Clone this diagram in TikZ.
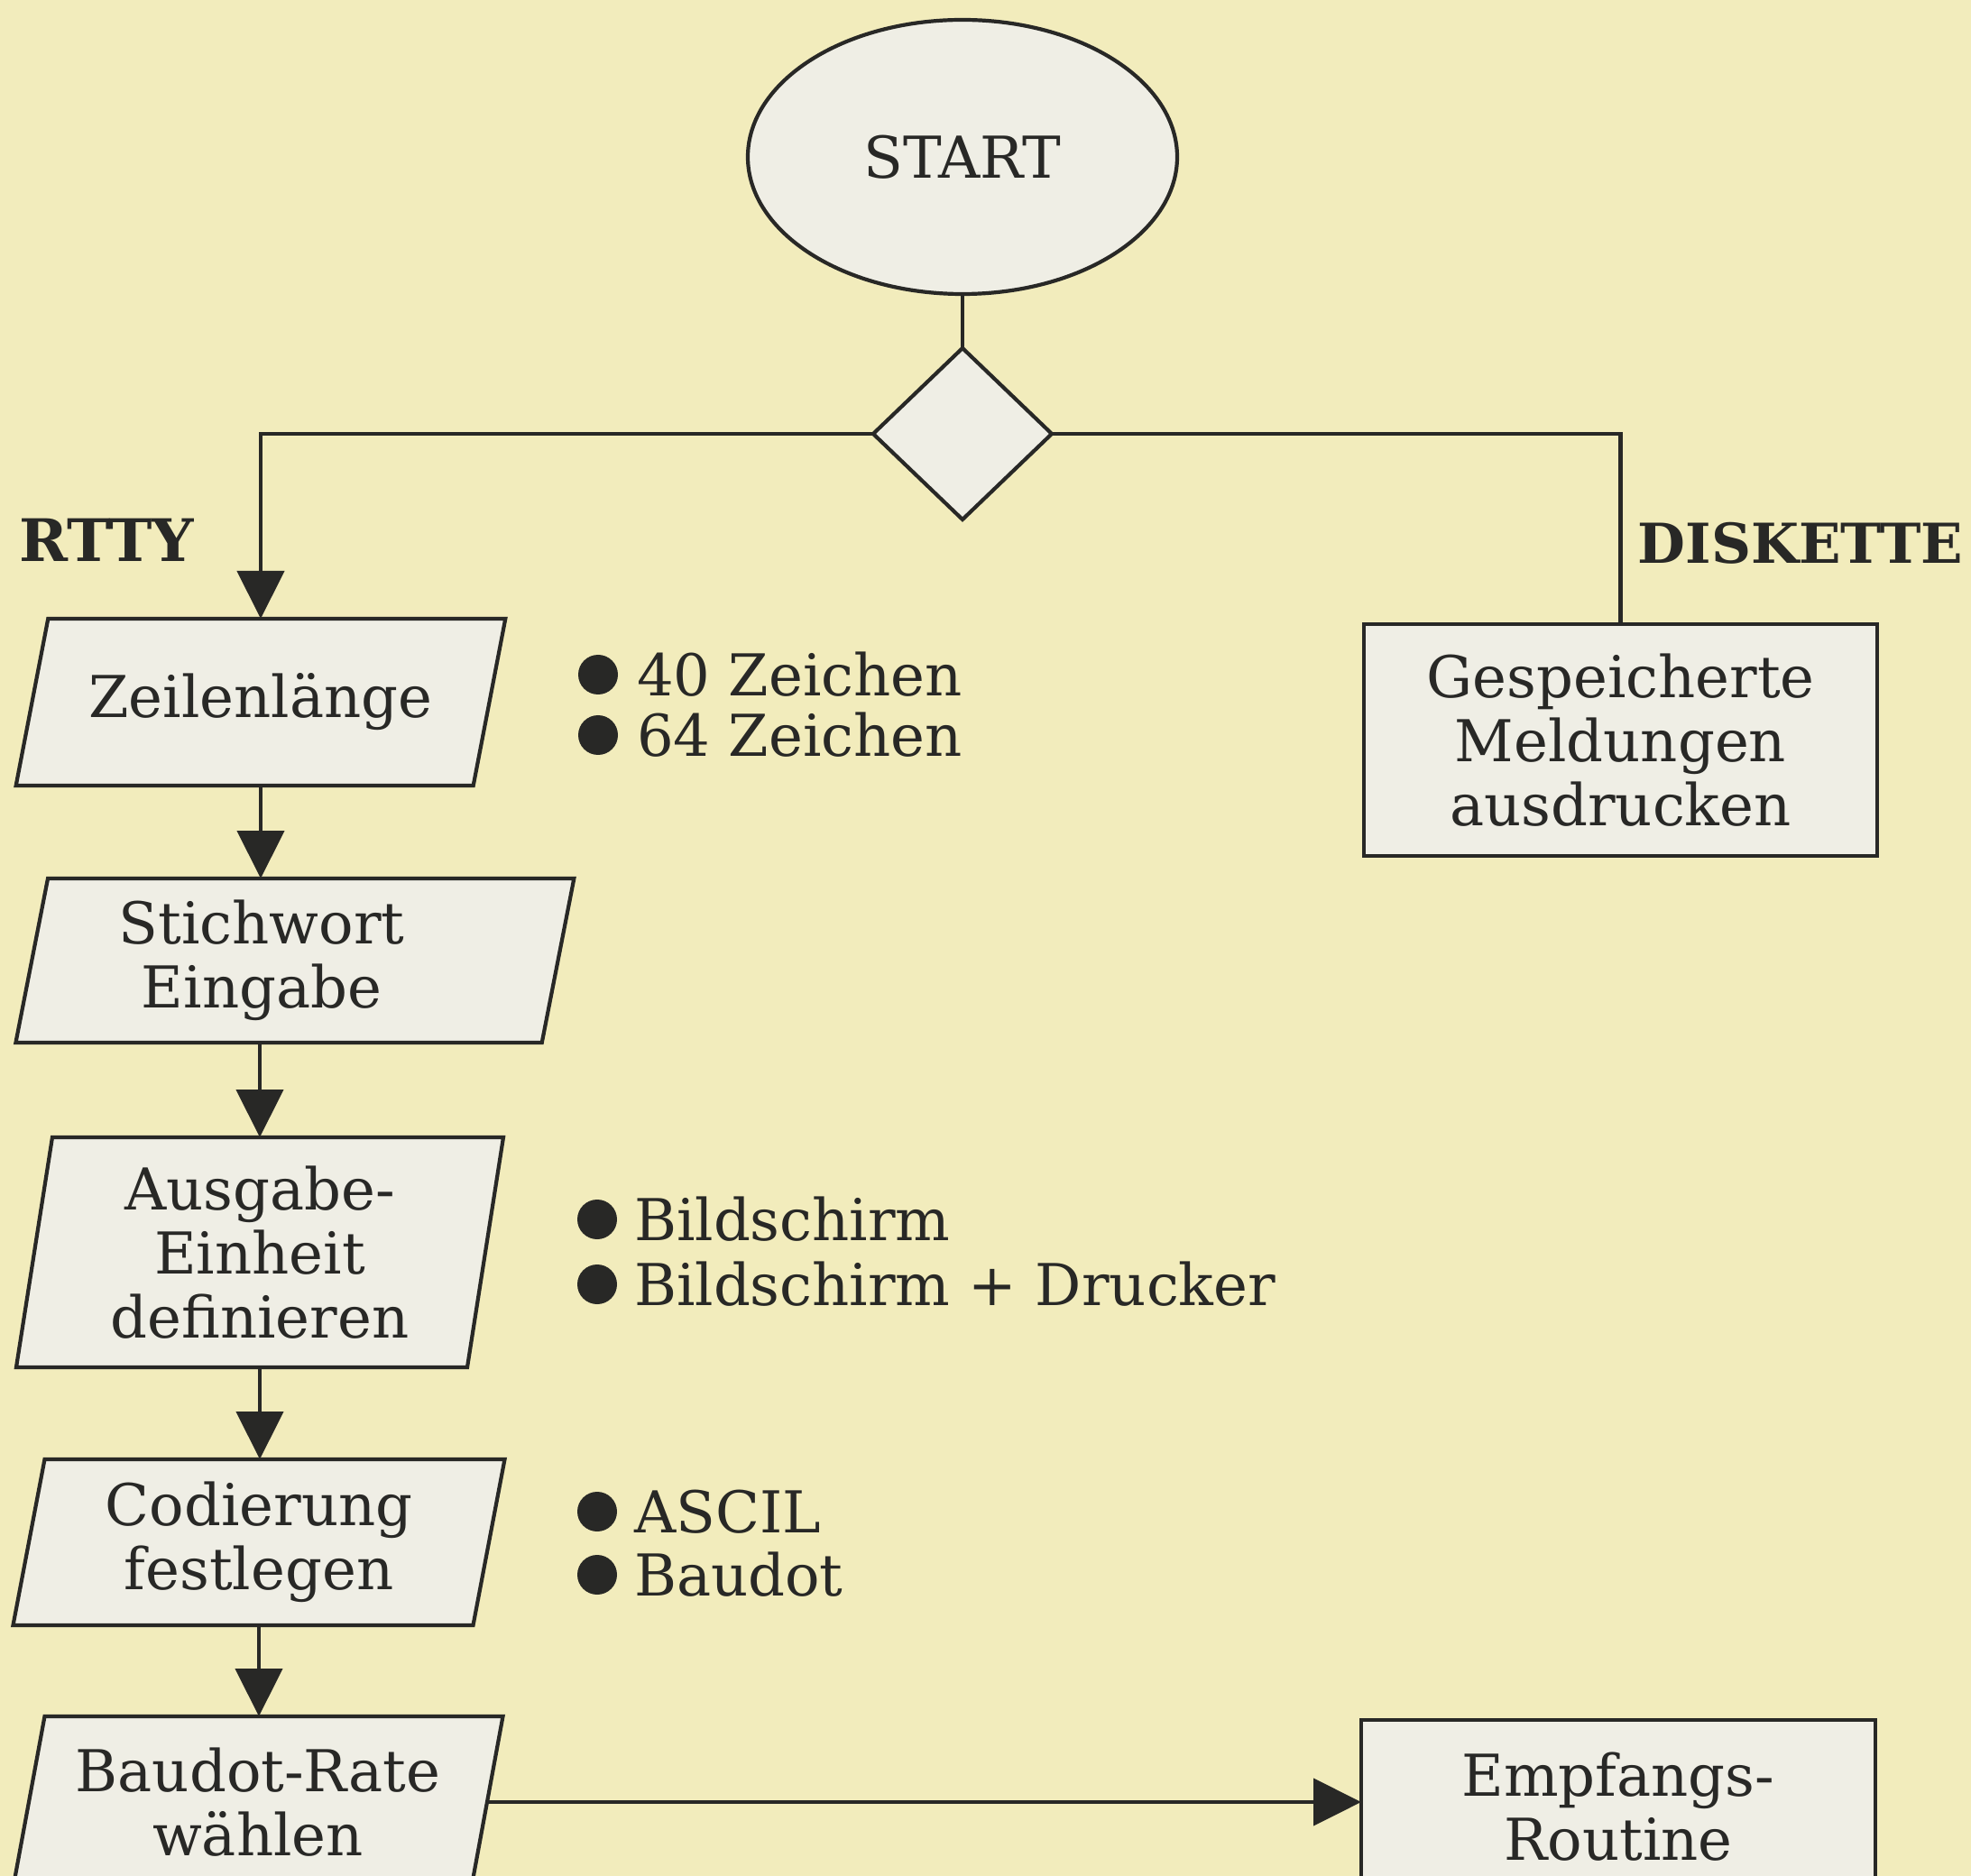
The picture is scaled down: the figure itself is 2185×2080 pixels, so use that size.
\documentclass[tikz,border=0pt]{standalone}
\usepackage{fontspec}
\setmainfont{DejaVu Serif}
\usetikzlibrary{arrows.meta,shapes.geometric}
\definecolor{paper}{RGB}{242,236,188}
\definecolor{boxfill}{RGB}{239,238,229}
\definecolor{ink}{RGB}{40,40,38}
\pgfdeclarelayer{bg}
\pgfsetlayers{bg,main}
% #1 node, #2 half slant, #3 extra extension on the right
\newcommand\pgramshape[3]{%
  \draw[pshape] ([xshift=#2]#1.north west) -- ([xshift=#2+#3]#1.north east)
    -- ([xshift=-#2+#3]#1.south east) -- ([xshift=-#2]#1.south west) -- cycle;}
\begin{document}
\begin{tikzpicture}[x=0.5pt,y=-0.5pt,
  every node/.style={text=ink, font=\fontsize{32}{35.5}\selectfont, outer sep=0pt},
  flow/.style={draw=ink, line width=2.1pt},
  arr/.style={flow, -{Triangle[length=26.5pt,width=26pt]}},
  pshape/.style={draw=ink, fill=boxfill, line width=2.1pt, line join=miter},
  rbox/.style={rectangle, draw=ink, fill=boxfill, line width=2.1pt, align=center, inner sep=0pt},
  iobox/.style={rectangle, align=center, inner sep=0pt},
  startst/.style={ellipse, draw=ink, fill=boxfill, line width=2.1pt, inner sep=0pt,
    minimum width=238pt, minimum height=152pt},
  decide/.style={diamond, draw=ink, fill=boxfill, line width=2.1pt, inner sep=0pt,
    minimum width=99pt, minimum height=95pt},
  branch/.style={font=\fontsize{32.5}{35.5}\selectfont\bfseries, inner sep=0pt},
  opt/.style={anchor=west, inner sep=0pt},
  dot/.style={circle, fill=ink, minimum size=22pt, inner sep=0pt}
]
\useasboundingbox (0,0) rectangle (2185,2080);
\begin{pgfonlayer}{bg}
  \fill[paper] (0,0) rectangle (2185,2080);
\end{pgfonlayer}

% start and decision
\node[startst] (st) at (1067,174) {START};
\node[decide] (dc) at (1067,481) {};

% RTTY chain
\node[iobox, minimum width=253.5pt, minimum height=92.5pt] (zl) at (289,778.5) {Zeilenlänge};
\node[iobox, minimum width=254.75pt, minimum height=91pt] (sw) at (290,1065) {Stichwort\\Eingabe};
\node[iobox, minimum width=250pt, minimum height=127.5pt] (ag) at (288,1388.5) {Ausgabe-\\Einheit\\definieren};
\node[iobox, minimum width=255pt, minimum height=92pt] (cd) at (287,1710) {Codierung\\festlegen};
\node[iobox, minimum width=254pt, minimum height=95pt] (br) at (286,1998) {Baudot-Rate\\wählen};

\begin{pgfonlayer}{bg}
  \pgramshape{zl}{8.9pt}{0pt}
  \pgramshape{sw}{8.9pt}{36.9pt}
  \pgramshape{ag}{10pt}{0pt}
  \pgramshape{cd}{8.75pt}{0pt}
  \pgramshape{br}{8.75pt}{0pt}
\end{pgfonlayer}

% DISKETTE side
\node[rbox, minimum width=284.5pt, minimum height=128.5pt] (gm) at (1796.5,820.5) {Gespeicherte\\Meldungen\\ausdrucken};
\node[rbox, minimum width=285pt, minimum height=96pt] (er) at (1794,2003) {Empfangs-\\Routine};

% branch labels
\node[branch] (rtty) at (118,599) {RTTY};
\node[branch, anchor=east, font=\fontsize{30.5}{35.5}\selectfont\bfseries] (disk) at (2176,602) {DISKETTE};

% options
\node[dot] (d1) at (663,748) {};
\node[opt] (o1) at (706,748) {40 Zeichen};
\node[dot] (d2) at (663,815) {};
\node[opt] (o2) at (706,815) {64 Zeichen};
\node[dot] (d3) at (662,1352) {};
\node[opt] (o3) at (703,1352) {Bildschirm};
\node[dot] (d4) at (662,1424) {};
\node[opt] (o4) at (703,1424) {Bildschirm + Drucker};
\node[dot] (d5) at (662,1676) {};
\node[opt] (o5) at (703,1676) {ASCIL};
\node[dot] (d6) at (662,1746) {};
\node[opt] (o6) at (703,1746) {Baudot};

% connectors
\draw[flow] (st.south) -- (dc.north);
\draw[arr] (dc.west) -| (zl.north);
\draw[flow] (dc.east) -| (gm.north);
\draw[arr] (zl.south) -- (zl.south |- sw.north);
\draw[arr] (ag.north |- sw.south) -- (ag.north);
\draw[arr] (ag.south) -- (ag.south |- cd.north);
\draw[arr] (cd.south) -- (cd.south |- br.north);
\draw[arr] (br.east) -- (br.east -| er.west);
\end{tikzpicture}
\end{document}
